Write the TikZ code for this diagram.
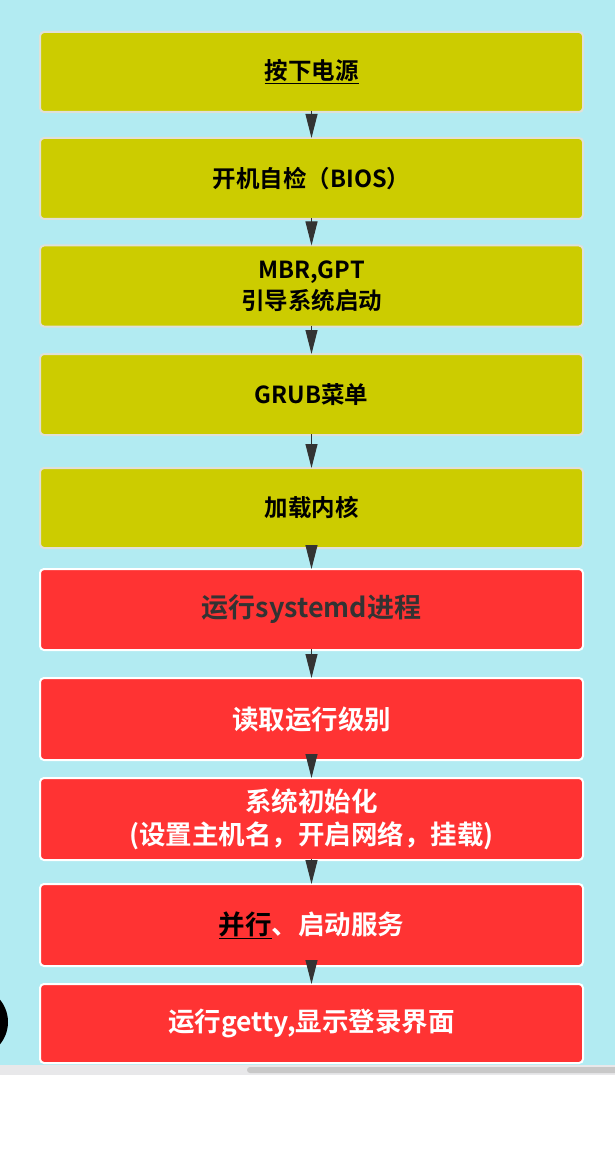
\documentclass[tikz,border=0pt]{standalone}
\usepackage{fontspec}
\setmainfont{Noto Sans CJK SC}[BoldFont={Noto Sans CJK SC Bold}]
\usetikzlibrary{arrows.meta}
\definecolor{bgblue}{HTML}{B2EBF2}
\definecolor{olive}{HTML}{CCCC00}
\definecolor{redbox}{HTML}{FF3333}
\definecolor{darkgray}{HTML}{333333}
\definecolor{ybord}{HTML}{E0E0D8}
\definecolor{strip}{HTML}{E8E8EA}
\definecolor{sbar}{HTML}{C8C8C8}
\tikzset{
  box/.style={rectangle, rounded corners=4pt, line width=2pt, minimum width=543pt,
    inner sep=0pt, outer sep=0pt, align=center, font=\bfseries},
  ybox/.style={box, fill=olive, draw=ybord, text=black, font=\bfseries\fontsize{23.5}{31}\selectfont},
  rbox/.style={box, fill=redbox, draw=white, text=white, font=\bfseries\fontsize{26.5}{33}\selectfont},
  arr/.style={draw=darkgray, line width=1pt, -{Triangle[length=24pt,width=12pt]}, shorten <=-1pt},
}
\begin{document}
\begin{tikzpicture}[x=1pt,y=-1pt]
\useasboundingbox (0,0) rectangle (615,1150);
\fill[white] (0,0) rectangle (615,1150);
\fill[bgblue] (0,0) rectangle (615,1065);
\fill[strip] (0,1065) rectangle (615,1075);
\fill[sbar, rounded corners=3pt] (247,1067) rectangle (620,1073);
\fill[black] (-27,1022) circle (35);

\node[ybox, minimum height=80pt] (b1) at (311.5,72) {\underline{按下电源}};
\node[ybox, minimum height=81pt] (b2) at (311.5,178.5) {开机自检（BIOS）};
\node[ybox, minimum height=81pt] (b3) at (311.5,286) {MBR,GPT\\引导系统启动};
\node[ybox, minimum height=81pt] (b4) at (311.5,394.5) {GRUB菜单};
\node[ybox, minimum height=80pt] (b5) at (311.5,508) {加载内核};
\node[rbox, minimum height=81pt, text=darkgray, font=\bfseries\fontsize{27}{33}\selectfont] (b6) at (311.5,609.5) {运行systemd进程};
\node[rbox, minimum height=82pt] (b7) at (311.5,719) {读取运行级别};
\node[rbox, minimum height=82pt] (b8) at (311.5,819) {系统初始化\\(设置主机名，开启网络，挂载)};
\node[rbox, minimum height=82pt] (b9) at (311.5,925) {\textcolor{black}{\underline{并行}}、启动服务};
\node[rbox, minimum height=79pt] (b10) at (311.5,1023.5) {运行getty,显示登录界面};

\draw[arr] (b1) -- (b2);
\draw[arr] (b2) -- (b3);
\draw[arr] (b3) -- (b4);
\draw[arr] (b4) -- (b5);
\draw[arr] (b5) -- (b6);
\draw[arr] (b6) -- (b7);
\draw[arr] (b7) -- (b8);
\draw[arr] (b8) -- (b9);
\draw[arr] (b9) -- (b10);
\end{tikzpicture}
\end{document}
